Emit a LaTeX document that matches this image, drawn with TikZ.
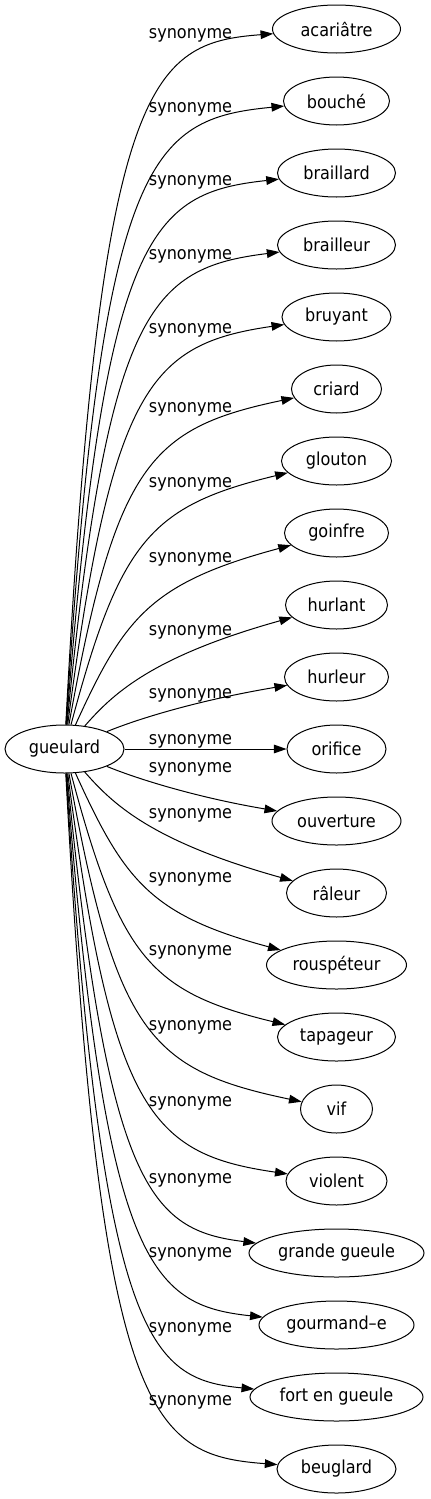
\documentclass[tikz,border=0pt]{standalone}
\usepackage{fontspec}
\setmainfont{DejaVu Sans Condensed}
\usetikzlibrary{shapes.geometric,arrows.meta}

\begin{document}
\begin{tikzpicture}[
    x=0.75pt,
    y=-0.75pt,
    word/.style={
      ellipse,
      draw,
      line width=0.75pt,
      inner sep=0pt,
      minimum height=36pt,
      font=\fontsize{13.4}{16}\selectfont},
    syn/.style={
      anchor=base,
      inner sep=0pt,
      font=\fontsize{13.4}{16}\selectfont},
    rel/.style={
      -{Triangle[length=9.5pt,width=6.5pt]},
      line width=0.75pt},
  ]
  \useasboundingbox (0,0) rectangle (430,1499);

  % source word
  \node[word, minimum width=89.25pt] (gueulard) at (64.5,749) {gueulard};

  % synonyms
  \node[word, minimum width=96pt] (acariatre) at (336.5,29) {acariâtre};
  \node[word, minimum width=79.5pt] (bouche) at (336.5,101) {bouché};
  \node[word, minimum width=88.5pt] (braillard) at (336.5,173) {braillard};
  \node[word, minimum width=88.5pt] (brailleur) at (336.5,245) {brailleur};
  \node[word, minimum width=81.75pt] (bruyant) at (336.5,317) {bruyant};
  \node[word, minimum width=67.5pt] (criard) at (336.5,389) {criard};
  \node[word, minimum width=82.5pt] (glouton) at (336.5,461) {glouton};
  \node[word, minimum width=78pt] (goinfre) at (336.5,533) {goinfre};
  \node[word, minimum width=76.5pt] (hurlant) at (336.5,605) {hurlant};
  \node[word, minimum width=78pt] (hurleur) at (336.5,677) {hurleur};
  \node[word, minimum width=74.25pt] (orifice) at (336.5,749) {orifice};
  \node[word, minimum width=96.75pt] (ouverture) at (336.5,821) {ouverture};
  \node[word, minimum width=75pt] (raleur) at (336.5,893) {râleur};
  \node[word, minimum width=105pt] (rouspeteur) at (336.5,965) {rouspéteur};
  \node[word, minimum width=88.5pt] (tapageur) at (336.5,1037) {tapageur};
  \node[word, minimum width=54pt] (vif) at (336.5,1109) {vif};
  \node[word, minimum width=75.75pt] (violent) at (336.5,1181) {violent};
  \node[word, minimum width=131.25pt] (grandegueule) at (336.5,1253) {grande gueule};
  \node[word, minimum width=116.25pt] (gourmande) at (336.5,1325) {gourmand--e};
  \node[word, minimum width=129.75pt] (fortengueule) at (336.5,1397) {fort en gueule};
  \node[word, minimum width=89.25pt] (beuglard) at (336.5,1469) {beuglard};

  % edges above
  \draw[rel] (gueulard) .. controls (100,79) and (150,43) .. (acariatre)
    node[syn, at={(190.5,38)}] {synonyme};
  \draw[rel] (gueulard) .. controls (102,156) and (150,119) .. (bouche)
    node[syn, at={(190.5,112)}] {synonyme};
  \draw[rel] (gueulard) .. controls (105,233) and (150,193) .. (braillard)
    node[syn, at={(190.5,185)}] {synonyme};
  \draw[rel] (gueulard) .. controls (108,310) and (150,268) .. (brailleur)
    node[syn, at={(190.5,259)}] {synonyme};
  \draw[rel] (gueulard) .. controls (112,387) and (150,344) .. (bruyant)
    node[syn, at={(190.5,333)}] {synonyme};
  \draw[rel] (gueulard) .. controls (116,464) and (150,428) .. (criard)
    node[syn, at={(190.5,412)}] {synonyme};
  \draw[rel] (gueulard) .. controls (120,541) and (150,506) .. (glouton)
    node[syn, at={(190.5,487)}] {synonyme};
  \draw[rel] (gueulard) .. controls (124,618) and (150,583) .. (goinfre)
    node[syn, at={(190.5,562)}] {synonyme};
  \draw[rel] (gueulard) .. controls (112,695) and (150,657) .. (hurlant)
    node[syn, at={(190.5,635)}] {synonyme};
  \draw[rel] (gueulard) .. controls (140,718) and (200,700) .. (hurleur)
    node[syn, at={(190.5,698)}] {synonyme};
  \draw[rel] (gueulard) -- (orifice)
    node[syn, at={(190.5,744)}] {synonyme};

  % edges below
  \draw[rel] (gueulard) .. controls (140,780) and (200,798) .. (ouverture)
    node[syn, at={(190.5,772)}] {synonyme};
  \draw[rel] (gueulard) .. controls (112,803) and (150,841) .. (raleur)
    node[syn, at={(190.5,818)}] {synonyme};
  \draw[rel] (gueulard) .. controls (124,880) and (150,915) .. (rouspeteur)
    node[syn, at={(190.5,882)}] {synonyme};
  \draw[rel] (gueulard) .. controls (120,957) and (150,992) .. (tapageur)
    node[syn, at={(190.5,955)}] {synonyme};
  \draw[rel] (gueulard) .. controls (116,1034) and (150,1070) .. (vif)
    node[syn, at={(190.5,1030)}] {synonyme};
  \draw[rel] (gueulard) .. controls (112,1111) and (150,1154) .. (violent)
    node[syn, at={(190.5,1106)}] {synonyme};
  \draw[rel] (gueulard) .. controls (108,1188) and (150,1230) .. (grandegueule)
    node[syn, at={(190.5,1183)}] {synonyme};
  \draw[rel] (gueulard) .. controls (105,1265) and (150,1305) .. (gourmande)
    node[syn, at={(190.5,1257)}] {synonyme};
  \draw[rel] (gueulard) .. controls (102,1342) and (150,1379) .. (fortengueule)
    node[syn, at={(190.5,1332)}] {synonyme};
  \draw[rel] (gueulard) .. controls (100,1419) and (150,1455) .. (beuglard)
    node[syn, at={(190.5,1405)}] {synonyme};
\end{tikzpicture}
\end{document}
